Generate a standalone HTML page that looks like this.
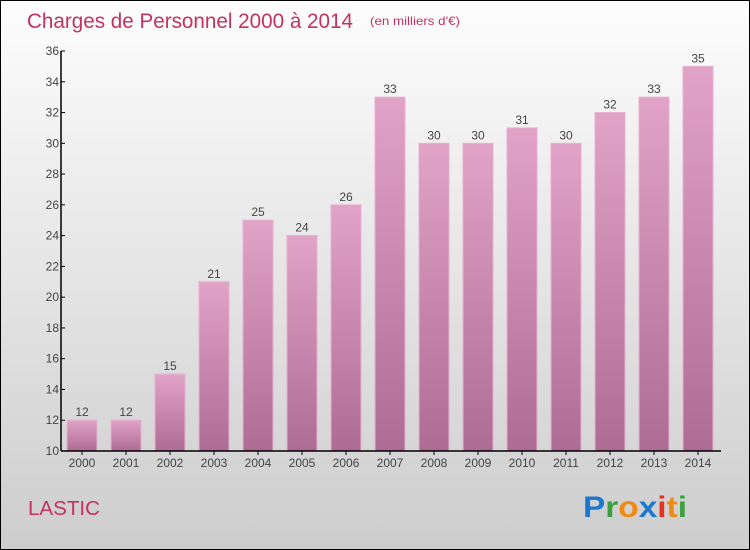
<!DOCTYPE html>
<html><head><meta charset="utf-8"><style>
body{margin:0}
#c{position:relative;width:748px;height:548px;border:1px solid #000;background:linear-gradient(#fdfdfd,#cdcdcd);font-family:"Liberation Sans",sans-serif;overflow:hidden}
</style></head><body>
<div id="c">
<svg width="748" height="548" id="s">
<defs><linearGradient id="g" x1="0" y1="0" x2="0" y2="1"><stop offset="0" stop-color="#e2a3c8"/><stop offset="1" stop-color="#ad6c94"/></linearGradient></defs>
<text x="26" y="27" font-size="21" fill="#c5325f" textLength="326" lengthAdjust="spacingAndGlyphs">Charges de Personnel 2000 à 2014</text>
<text x="369" y="24" font-size="12" fill="#c5325f" textLength="90" lengthAdjust="spacingAndGlyphs">(en milliers d'€)</text>
<text x="27" y="514" font-size="20" fill="#c5325f" textLength="72" lengthAdjust="spacingAndGlyphs">LASTIC</text>
<g font-size="30" font-weight="bold" font-family="Liberation Sans,sans-serif">
<text x="582" y="516" textLength="104" lengthAdjust="spacingAndGlyphs"><tspan fill="#1a78d0">P</tspan><tspan fill="#3aa040">r</tspan><tspan fill="#f08a10">o</tspan><tspan fill="#1a78d0">x</tspan><tspan fill="#e83020">i</tspan><tspan fill="#f08a10">t</tspan><tspan fill="#3aa040">i</tspan></text>
</g>
<g id="plot"></g>
</svg>
</div>
<script>
const categories=["2000","2001","2002","2003","2004","2005","2006","2007","2008","2009","2010","2011","2012","2013","2014"];
const values=[12,12,15,21,25,24,26,33,30,30,31,30,32,33,35];
const yTicks=[10,12,14,16,18,20,22,24,26,28,30,32,34,36];
const NS="http://www.w3.org/2000/svg";
const p=document.getElementById('plot');
const x0=60,x1=720,yTop=50,yBot=450,vmin=10,vmax=36;
const y=v=>yBot-(v-vmin)/(vmax-vmin)*(yBot-yTop);
const step=44,xc=i=>81+i*step;
function mk(t,a,parent){const e=document.createElementNS(NS,t);for(const k in a)e.setAttribute(k,a[k]);(parent||p).appendChild(e);return e;}
yTicks.forEach(t=>{
 const l=mk('line',{x1:x0,x2:x0+4,y1:y(t),y2:y(t),stroke:'#000'});
 
 
 const tx=mk('text',{x:x0-2,y:y(t)+4,'text-anchor':'end','font-size':12,fill:'#444'});tx.textContent=t;
 
 
});
values.forEach((v,i)=>{
 const r=mk('rect',{x:xc(i)-15,y:y(v),width:30,height:yBot-y(v),fill:'url(#g)',stroke:'#e8b0d0','stroke-width':1});
 
 
 const t=mk('text',{x:xc(i),y:y(v)-4,'text-anchor':'middle','font-size':12,fill:'#444'});t.textContent=v;
 
 
 const k=mk('line',{x1:xc(i),x2:xc(i),y1:yBot,y2:yBot+4,stroke:'#000'});
 
 
 const c=mk('text',{x:xc(i),y:yBot+16,'text-anchor':'middle','font-size':12,fill:'#444'});c.textContent=categories[i];
 
 
});
const ya=mk('line',{x1:x0,x2:x0,y1:yTop,y2:yBot,stroke:'#000','stroke-width':1.5});


const xa=mk('line',{x1:x0,x2:x1,y1:yBot,y2:yBot,stroke:'#000','stroke-width':1.5});


</script>
</body></html>
